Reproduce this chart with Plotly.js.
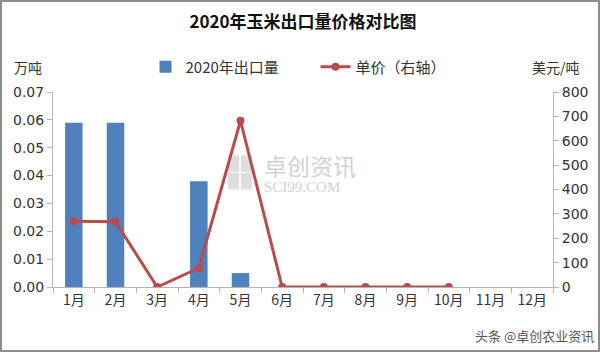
<!DOCTYPE html>
<html><head><meta charset="utf-8">
<script src="https://cdn.plot.ly/plotly-3.0.1.min.js"></script>
<style>
html,body{margin:0;padding:0;background:#fff;}
#wrap{width:600px;height:352px;box-sizing:border-box;border:2px solid #8c8c8c;overflow:hidden;}
#chart{width:596px;height:348px;}
</style></head>
<body><div id="wrap"><div id="chart"></div></div>
<script>
const months = ["1月","2月","3月","4月","5月","6月","7月","8月","9月","10月","11月","12月"];
const exportVolume = [0.059, 0.059, null, 0.038, 0.005, null, null, null, null, null, null, null];
const unitPrice = [270, 268, 0, 78, 682, 0, 0, 0, 0, 0, null, null];

const font = {family: "'Noto Sans CJK SC', 'Noto Sans', sans-serif", size: 13, color: "#333"};
const numFont = {family: "'DejaVu Sans', sans-serif", size: 14, color: "#333"};

const data = [
  {type: "bar", name: "2020年出口量", x: months, y: exportVolume,
   marker: {color: "#4F81BD"}, width: 0.42},
  {type: "scatter", mode: "lines+markers", name: "单价（右轴）", x: months, y: unitPrice,
   yaxis: "y2", line: {color: "#B94C4A", width: 3}, marker: {color: "#B94C4A", size: 8},
   connectgaps: false}
];

const layout = {
  width: 596, height: 348,
  margin: {l: 51, r: 45, t: 90, b: 63},
  paper_bgcolor: "#fff", plot_bgcolor: "#fff",
  font: font,
  showlegend: true,
  title: {text: "<b>2020年玉米出口量价格对比图</b>", font: {family: "'Noto Sans CJK SC', serif", size: 17, color: "#111"},
          xref: "paper", x: 0.5, xanchor: "center", yref: "container", y: 1 - 20/348, yanchor: "middle"},
  legend: {orientation: "h", xref: "paper", x: 0.185, xanchor: "left", yref: "container", y: 1 - 65/348, yanchor: "middle",
           entrywidth: 125, entrywidthmode: "pixels",
           font: {family: font.family, size: 15, color: "#333"}, traceorder: "normal", bgcolor: "rgba(0,0,0,0)"},
  xaxis: {type: "category", range: [-0.5, 11.5], showgrid: false, zeroline: false,
          showline: true, linecolor: "#b5b5b5", linewidth: 1,
          ticks: "outside", tickson: "boundaries", ticklen: 5, tickcolor: "#b5b5b5",
          tickfont: {family: font.family, size: 14, color: "#333"}},
  yaxis: {range: [0, 0.07], dtick: 0.01, tickformat: ".2f", showgrid: false, zeroline: false,
          showline: true, linecolor: "#b5b5b5", linewidth: 1,
          ticks: "outside", ticklen: 5, tickcolor: "#b5b5b5",
          tickfont: numFont},
  yaxis2: {overlaying: "y", side: "right", range: [0, 800], dtick: 100, showgrid: false, zeroline: false,
           showline: true, linecolor: "#b5b5b5", linewidth: 1,
           ticks: "outside", ticklen: 5, tickcolor: "#b5b5b5",
           tickfont: numFont},
  annotations: [
    {text: "万吨", xref: "paper", yref: "paper", x: -0.05, y: 1.128, xanchor: "center", yanchor: "middle",
     showarrow: false, font: {family: font.family, size: 14, color: "#333"}},
    {text: "美元/吨", xref: "paper", yref: "paper", x: 1.006, y: 1.128, xanchor: "center", yanchor: "middle",
     showarrow: false, font: {family: font.family, size: 14, color: "#333"}},
    {text: "卓创资讯", xref: "paper", yref: "paper", x: 0.418, y: 0.625, xanchor: "left", yanchor: "middle",
     showarrow: false, font: {family: font.family, size: 23, color: "#d2d2d2"}},
    {text: "SCI99.COM", xref: "paper", yref: "paper", x: 0.418, y: 0.515, xanchor: "left", yanchor: "middle",
     showarrow: false, font: {family: "'Liberation Serif', serif", size: 15, color: "#d2d2d2"}},
    {text: "头条 @卓创农业资讯", xref: "paper", yref: "paper", x: 1.085, y: -0.25, xanchor: "right", yanchor: "middle",
     showarrow: false, font: {family: font.family, size: 13, color: "#555"}}
  ],
  shapes: [
    {type: "rect", xref: "paper", yref: "paper", x0: 0.35, x1: 0.372, y0: 0.59, y1: 0.675, line: {width: 0}, fillcolor: "#dedede", layer: "below"},
    {type: "rect", xref: "paper", yref: "paper", x0: 0.376, x1: 0.398, y0: 0.59, y1: 0.675, line: {width: 0}, fillcolor: "#dedede", layer: "below"},
    {type: "rect", xref: "paper", yref: "paper", x0: 0.35, x1: 0.372, y0: 0.50, y1: 0.585, line: {width: 0}, fillcolor: "#dedede", layer: "below"},
    {type: "rect", xref: "paper", yref: "paper", x0: 0.376, x1: 0.398, y0: 0.50, y1: 0.585, line: {width: 0}, fillcolor: "#dedede", layer: "below"}
  ]
};

Plotly.newPlot("chart", data, layout, {displayModeBar: false, staticPlot: true});
</script>
</body></html>
